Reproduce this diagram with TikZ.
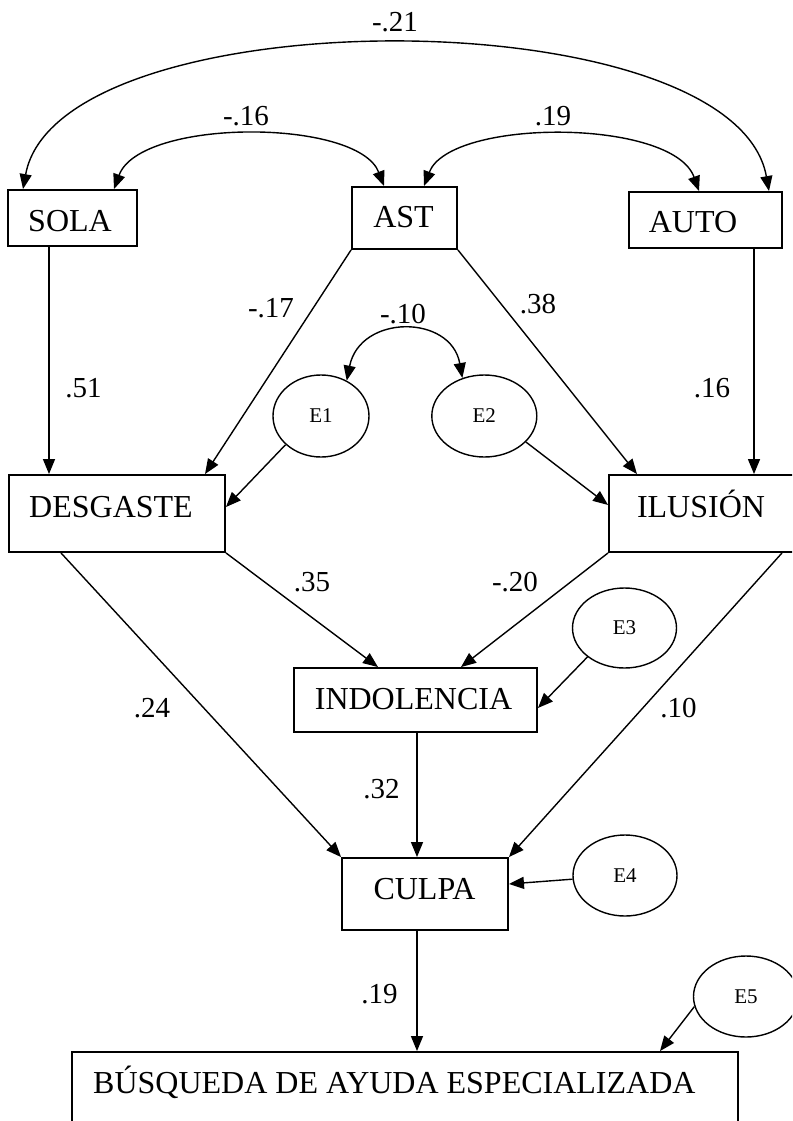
\documentclass[tikz,border=0pt]{standalone}
\usepackage{fontspec}
\setmainfont{Liberation Serif}
\usetikzlibrary{arrows.meta,shapes.geometric}

\tikzset{
  varbox/.style={draw, line width=1.9pt, rectangle, inner sep=0pt},
  errvar/.style={draw, line width=1.4pt, ellipse, inner sep=0pt,
    font=\fontsize{21}{25}\selectfont},
  boxtxt/.style={inner sep=0pt, anchor=base, font=\fontsize{32}{38}\selectfont},
  coef/.style={inner sep=0pt, anchor=base, font=\fontsize{29}{34}\selectfont},
  effect/.style={line width=1.4pt, -{Triangle[length=15pt,width=12pt]}},
  cov/.style={line width=1.4pt, {Triangle[length=15pt,width=12pt]}-{Triangle[length=15pt,width=12pt]}}
}

\begin{document}
\begin{tikzpicture}[x=1pt, y=-1pt]
\useasboundingbox (0,0) rectangle (792,1121);
\clip (0,0) rectangle (792,1121);

% observed variables
\node[varbox, minimum width=129pt, minimum height=56pt] (sola) at (72.5,218) {};
\node[varbox, minimum width=105pt, minimum height=62pt] (ast)  at (404.5,218) {};
\node[varbox, minimum width=153pt, minimum height=56pt] (auto) at (705.5,220) {};
\node[varbox, minimum width=216pt, minimum height=77pt] (desg) at (117,513.5) {};
\node[varbox, minimum width=201pt, minimum height=77pt] (ilu)  at (709.5,513.5) {};
\node[varbox, minimum width=243pt, minimum height=64pt] (indol) at (415.5,700) {};
\node[varbox, minimum width=166pt, minimum height=72pt] (culpa) at (425,894) {};
\node[varbox, minimum width=666pt, minimum height=108pt] (busq) at (405,1106) {};

\node[boxtxt] (sola-t)  at (70,231)    {SOLA};
\node[boxtxt] (ast-t)   at (403.5,227) {AST};
\node[boxtxt] (auto-t)  at (693,232)   {AUTO};
\node[boxtxt] (desg-t)  at (111,517)   {DESGASTE};
\node[boxtxt] (ilu-t)   at (701,517)   {ILUSIÓN};
\node[boxtxt] (indol-t) at (413.5,709) {INDOLENCIA};
\node[boxtxt] (culpa-t) at (424.5,899) {CULPA};
\node[boxtxt, anchor=base west] (busq-t) at (93,1093) {BÚSQUEDA DE AYUDA ESPECIALIZADA};

% error terms
\node[errvar, minimum width=96pt,  minimum height=82pt] (e1) at (321,416)   {E1};
\node[errvar, minimum width=105pt, minimum height=82pt] (e2) at (484.3,416) {E2};
\node[errvar, minimum width=104pt, minimum height=80pt] (e3) at (624.5,628) {E3};
\node[errvar, minimum width=104pt, minimum height=81pt] (e4) at (625,875.5) {E4};
\node[errvar, minimum width=105pt, minimum height=81pt] (e5) at (746,996.5) {E5};

% covariances
\draw[cov] ([xshift=-49.5pt]sola.north) .. controls (58,-4) and (734,-4) .. ([xshift=63.5pt]auto.north);
\draw[cov] ([xshift=41.5pt]sola.north) .. controls (140,118) and (358,118) .. ([xshift=-20.5pt]ast.north);
\draw[cov] ([xshift=19.5pt]ast.north) .. controls (450,118) and (673,118) .. ([xshift=-6.5pt]auto.north);
\draw[cov] (e1.54) .. controls (360,314) and (451,314) .. (e2.120);

% structural paths
\draw[effect] ([xshift=-23.5pt]sola.south) -- ([xshift=-68pt]desg.north);
\draw[effect] ([xshift=48.5pt]auto.south) -- ([xshift=44.5pt]ilu.north);
\draw[effect] (ast.south west) -- ([xshift=88pt]desg.north);
\draw[effect] (ast.south east) -- ([xshift=-72.5pt]ilu.north);
\draw[effect] (e1.219) -- ([yshift=6.5pt]desg.east);
\draw[effect] (e2.328) -- ([yshift=8.5pt]ilu.west);
\draw[effect] (desg.south east) -- ([xshift=-37.5pt]indol.north);
\draw[effect] (ilu.south west) -- ([xshift=45.5pt]indol.north);
\draw[effect] (e3.218) -- ([yshift=-8pt]indol.east);
\draw[effect] ([xshift=-56pt]desg.south) -- (culpa.north west);
\draw[effect] ([xshift=72.5pt]ilu.south) -- (culpa.north east);
\draw[effect] ([xshift=1.5pt]indol.south) -- ([xshift=-8pt]culpa.north);
\draw[effect] (e4.184) -- ([yshift=10pt]culpa.east);
\draw[effect] ([xshift=-8pt]culpa.south) -- ([xshift=12pt]busq.north);
\draw[effect] (e5.191) -- ([xshift=255pt]busq.north);

% coefficients
\node[coef] (c-sola-auto) at (395,32)    {-.21};
\node[coef] (c-sola-ast)  at (246,125)   {-.16};
\node[coef] (c-ast-auto)  at (553,125)   {.19};
\node[coef] (c-ast-desg)  at (271,317)   {-.17};
\node[coef] (c-ast-ilu)   at (538,313)   {.38};
\node[coef] (c-e1-e2)     at (403,323)   {-.10};
\node[coef] (c-sola-desg) at (83.5,397)  {.51};
\node[coef] (c-auto-ilu)  at (712,397)   {.16};
\node[coef] (c-desg-ind)  at (312,591)   {.35};
\node[coef] (c-ilu-ind)   at (515,591)   {-.20};
\node[coef] (c-desg-cul)  at (152,717)   {.24};
\node[coef] (c-ilu-cul)   at (678.5,717) {.10};
\node[coef] (c-ind-cul)   at (381.5,798) {.32};
\node[coef] (c-cul-busq)  at (379.5,1003) {.19};
\end{tikzpicture}
\end{document}
